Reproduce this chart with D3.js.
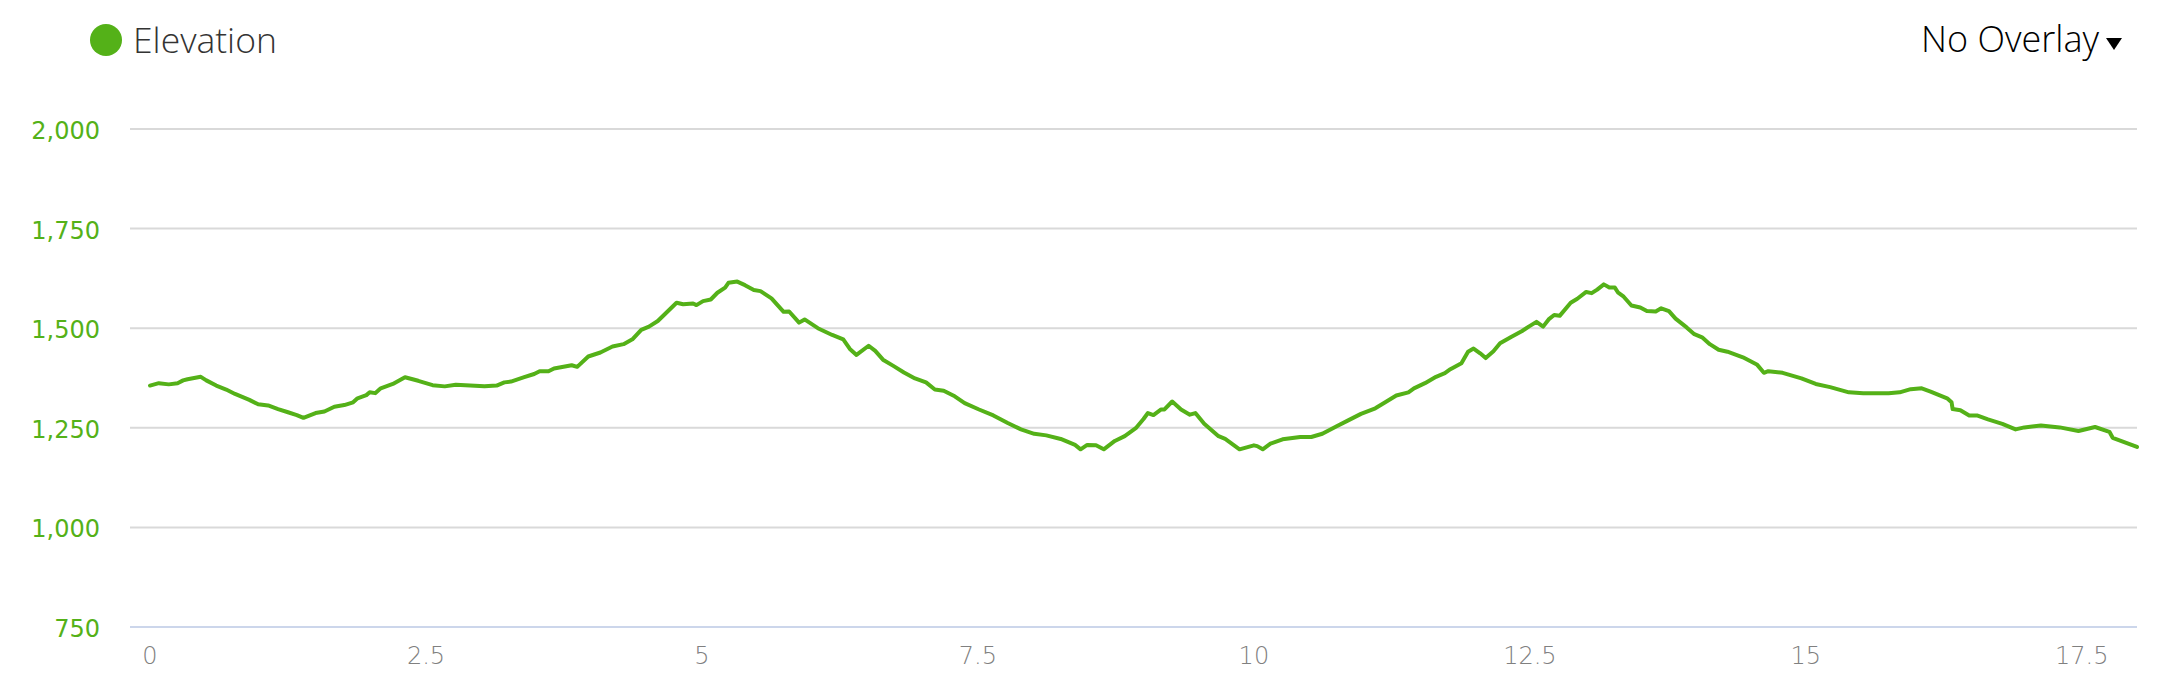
<!DOCTYPE html>
<html>
<head>
<meta charset="utf-8">
<script src="https://cdn.jsdelivr.net/npm/d3@7"></script>
<style>
  html, body { margin: 0; padding: 0; background: #fff; }
  svg { display: block; }
</style>
</head>
<body>
<svg id="chart" width="2172" height="690"></svg>
<script>
// Distance along route (km)
const distanceKm = [
  0.00,0.08,0.17,0.25,0.30,0.34,0.46,0.51,0.60,0.69,0.77,0.90,0.98,1.07,1.16,1.25,1.33,1.39,1.50,1.58,
  1.67,1.76,1.84,1.88,1.96,1.99,2.04,2.09,2.20,2.31,2.43,2.56,2.67,2.77,2.90,3.03,3.14,3.21,3.27,3.39,
  3.48,3.53,3.61,3.66,3.82,3.87,3.97,4.08,4.19,4.29,4.37,4.45,4.52,4.60,4.67,4.77,4.83,4.92,4.95,5.01,
  5.08,5.14,5.21,5.24,5.32,5.39,5.47,5.53,5.63,5.74,5.79,5.88,5.93,6.05,6.18,6.28,6.34,6.40,6.51,6.57,
  6.64,6.73,6.83,6.93,7.03,7.11,7.19,7.29,7.38,7.51,7.64,7.77,7.89,8.01,8.12,8.25,8.38,8.43,8.49,8.57,
  8.64,8.74,8.83,8.93,9.00,9.04,9.09,9.16,9.19,9.26,9.34,9.42,9.47,9.55,9.68,9.74,9.87,10.00,10.03,10.08,
  10.15,10.26,10.42,10.52,10.62,10.75,10.85,10.97,11.10,11.19,11.29,11.40,11.45,11.55,11.65,11.73,11.78,11.88,11.94,11.99,
  12.05,12.10,12.17,12.23,12.33,12.43,12.49,12.56,12.62,12.67,12.72,12.77,12.87,12.93,13.01,13.06,13.11,13.17,13.22,13.27,
  13.30,13.35,13.42,13.50,13.56,13.64,13.69,13.76,13.82,13.92,13.99,14.06,14.13,14.21,14.29,14.43,14.56,14.62,14.66,14.79,
  14.96,15.09,15.22,15.39,15.52,15.75,15.85,15.95,16.05,16.13,16.28,16.32,16.33,16.40,16.48,16.55,16.65,16.78,16.90,16.98,
  17.13,17.30,17.47,17.62,17.75,17.78,18.00
];
// Elevation (m)
const elevationM = [
  1356,1362,1359,1362,1369,1372,1378,1369,1356,1346,1335,1320,1309,1306,1297,1289,1282,1275,1287,1291,
  1303,1307,1314,1324,1332,1339,1337,1349,1360,1377,1368,1357,1354,1358,1356,1354,1356,1364,1366,1377,
  1385,1392,1392,1399,1407,1403,1429,1439,1454,1460,1472,1496,1504,1518,1537,1564,1560,1562,1558,1568,
  1572,1589,1602,1614,1617,1608,1596,1593,1575,1541,1542,1514,1522,1500,1483,1472,1448,1433,1456,1443,
  1421,1406,1389,1374,1364,1346,1343,1329,1312,1296,1281,1262,1246,1235,1231,1222,1207,1196,1207,1206,
  1196,1217,1229,1249,1272,1287,1282,1296,1296,1316,1296,1283,1287,1260,1229,1222,1196,1206,1204,1196,
  1210,1221,1227,1227,1235,1254,1268,1285,1299,1314,1331,1339,1349,1362,1378,1387,1397,1412,1441,1449,
  1437,1425,1442,1462,1478,1493,1504,1516,1504,1522,1533,1531,1564,1574,1591,1588,1597,1610,1602,1602,
  1589,1579,1557,1552,1543,1542,1550,1543,1524,1502,1485,1477,1460,1446,1441,1427,1408,1388,1392,1388,
  1374,1360,1352,1339,1337,1337,1339,1347,1349,1341,1324,1314,1297,1294,1281,1281,1271,1260,1246,1251,
  1256,1251,1242,1252,1240,1225,1202
];
const yTicks = [750, 1000, 1250, 1500, 1750, 2000];
const xTicks = [0, 2.5, 5, 7.5, 10, 12.5, 15, 17.5];
const seriesName = "Elevation";
const overlayLabel = "No Overlay";

const green = "#54b118";
const svg = d3.select("#chart");
const plot = { left: 130, right: 2137, top: 129, bottom: 627 };

const x = d3.scaleLinear()
  .domain([0, d3.max(distanceKm)])
  .range([plot.left + 20, plot.right]);
const y = d3.scaleLinear()
  .domain([d3.min(yTicks), d3.max(yTicks)])
  .range([plot.bottom, plot.top]);

// Gridlines
svg.append("g").selectAll("line")
  .data(yTicks.filter(t => t !== d3.min(yTicks)))
  .join("line")
  .attr("x1", plot.left).attr("x2", plot.right)
  .attr("y1", d => y(d)).attr("y2", d => y(d))
  .attr("stroke", "#d9d9d9").attr("stroke-width", 2);

// Bottom axis line
svg.append("line")
  .attr("x1", plot.left).attr("x2", plot.right)
  .attr("y1", y(d3.min(yTicks))).attr("y2", y(d3.min(yTicks)))
  .attr("stroke", "#ccd6eb").attr("stroke-width", 2);

// Y labels
const fmt = d3.format(",");
svg.append("g").selectAll("text")
  .data(yTicks)
  .join("text")
  .attr("x", 100)
  .attr("y", d => y(d) + 10)
  .attr("text-anchor", "end")
  .attr("font-family", "DejaVu Sans")
  .attr("font-size", 24)
  .attr("fill", green)
  .text(d => fmt(d));

// X labels
svg.append("g").selectAll("text")
  .data(xTicks)
  .join("text")
  .attr("x", d => x(d))
  .attr("y", 664)
  .attr("text-anchor", "middle")
  .attr("font-family", "DejaVu Sans")
  .attr("font-weight", 200)
  .attr("font-size", 24)
  .attr("fill", "#808080")
  .text(d => String(d));

// Line
const pts = distanceKm.map((d, i) => [d, elevationM[i]]);
svg.append("path")
  .datum(pts)
  .attr("fill", "none")
  .attr("stroke", green)
  .attr("stroke-width", 4)
  .attr("stroke-linejoin", "round")
  .attr("stroke-linecap", "round")
  .attr("d", d3.line().x(d => x(d[0])).y(d => y(d[1])));

// Legend
svg.append("circle").attr("cx", 106).attr("cy", 40).attr("r", 16).attr("fill", green);
svg.append("text")
  .attr("x", 133).attr("y", 53)
  .attr("font-family", "Open Sans").attr("font-weight", 300)
  .attr("font-size", 35.5).attr("fill", "#333")
  .text(seriesName);

// Overlay selector
svg.append("text")
  .attr("x", 2099).attr("y", 52)
  .attr("text-anchor", "end")
  .attr("font-family", "Open Sans").attr("font-weight", 300)
  .attr("font-size", 36).attr("fill", "#000")
  .text(overlayLabel);
svg.append("path")
  .attr("d", d3.line()([[2106, 38], [2122, 38], [2114, 50]]) + "Z")
  .attr("fill", "#000");
</script>
</body>
</html>
